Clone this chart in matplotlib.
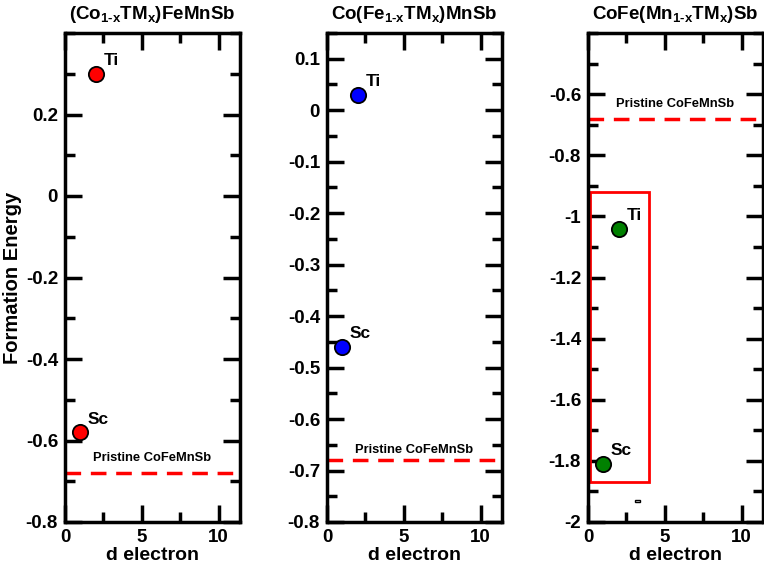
import matplotlib
matplotlib.use("Agg")
import matplotlib.pyplot as plt
from matplotlib.ticker import MultipleLocator, FixedLocator
from matplotlib.patches import Rectangle

plt.rcParams['font.family'] = ['Liberation Sans', 'DejaVu Sans']
plt.rcParams['font.weight'] = 'bold'
plt.rcParams['mathtext.fontset'] = 'custom'
plt.rcParams['mathtext.rm'] = 'Liberation Sans:bold'
plt.rcParams['mathtext.it'] = 'Liberation Sans:bold'
plt.rcParams['mathtext.bf'] = 'Liberation Sans:bold'

# ---- data ----
titles = [r'(Co$_{1\text{-}x}$TM$_{x}$)FeMnSb',
          r'Co(Fe$_{1\text{-}x}$TM$_{x}$)MnSb',
          r'CoFe(Mn$_{1\text{-}x}$TM$_{x}$)Sb']
elements = ['Sc', 'Ti']
d_electrons = [1, 2]
energy_co = [-0.58, 0.30]
energy_fe = [-0.46, 0.03]
energy_mn = [-1.81, -1.04]
pristine = -0.68
pristine_label = 'Pristine CoFeMnSb'
colors = ['#ff0000', '#0000ff', '#008000']
ylims = [(-0.8, 0.4), (-0.8, 0.15), (-2.0, -0.4)]
major_steps = [0.2, 0.1, 0.2]
minor_steps = [0.1, 0.05, 0.1]
label_y = [-0.642, -0.66, -0.633]
box_x = (0.1, 4.0)
box_y = (-1.87, -0.92)

series = [energy_co, energy_fe, energy_mn]

fig = plt.figure(figsize=(7.64, 5.68), dpi=100)
lefts = [65, 327, 588]
W, H = 764, 568
axes = []
for i in range(3):
    ax = fig.add_axes([lefts[i] / W, (H - 522) / H, 175 / W, 489 / H])
    axes.append(ax)
    ax.set_xlim(0, 11.4)
    ax.set_ylim(*ylims[i])
    lo, hi = ylims[i]
    step = major_steps[i]
    n = int(round((hi - lo) / step))
    majors = [lo + k * step for k in range(n + 1) if lo + k * step < hi - 1e-9]
    ax.yaxis.set_major_locator(FixedLocator(majors))
    ax.yaxis.set_minor_locator(MultipleLocator(minor_steps[i]))
    ax.xaxis.set_major_locator(MultipleLocator(5))
    ax.xaxis.set_minor_locator(MultipleLocator(2.5))
    ax.yaxis.set_major_formatter(plt.FuncFormatter(
        lambda v, p: ('%g' % round(v, 3)) if abs(v) > 1e-9 else '0'))
    ax.tick_params(which='both', direction='in', top=True, right=True,
                   width=2.5, labelsize=13.5, pad=5)
    ax.tick_params(which='major', length=12)
    ax.tick_params(which='minor', length=7)
    for s in ax.spines.values():
        s.set_linewidth(2.5)
    for t in ax.get_xticklabels() + ax.get_yticklabels():
        t.set_fontweight('bold')

    ax.axhline(pristine, color='#ff0000', lw=2.5, ls=(0, (4.5, 2.8)), zorder=1)
    ax.text(1.83, label_y[i], pristine_label, fontsize=9.3, fontweight='bold',
            ha='left', va='center')
    ax.plot(d_electrons, series[i], 'o', color=colors[i], markersize=11,
            markeredgecolor='black', markeredgewidth=1.3, zorder=3)
    for x, y, e in zip(d_electrons, series[i], elements):
        ax.annotate(e, (x, y), xytext=(5.5, 4), textcoords='offset points',
                    fontsize=12.5, fontweight='bold', ha='left', va='bottom')
    ax.set_xlabel('d electron', fontsize=14, fontweight='bold', labelpad=1)
    ax.set_title(titles[i], fontsize=13.5, fontweight='bold', pad=10)

axes[0].set_ylabel('Formation Energy', fontsize=14.5, fontweight='bold', labelpad=3)

ax3 = axes[2]
ax3.add_patch(Rectangle((box_x[0], box_y[0]), box_x[1] - box_x[0], box_y[1] - box_y[0],
                        fill=False, edgecolor='#ff0000', lw=2, zorder=2))
ax3.add_patch(Rectangle((3.05, -1.935), 0.35, 0.008, facecolor='white',
                        edgecolor='black', lw=1, zorder=2))

fig.savefig('out.png', dpi=100)
